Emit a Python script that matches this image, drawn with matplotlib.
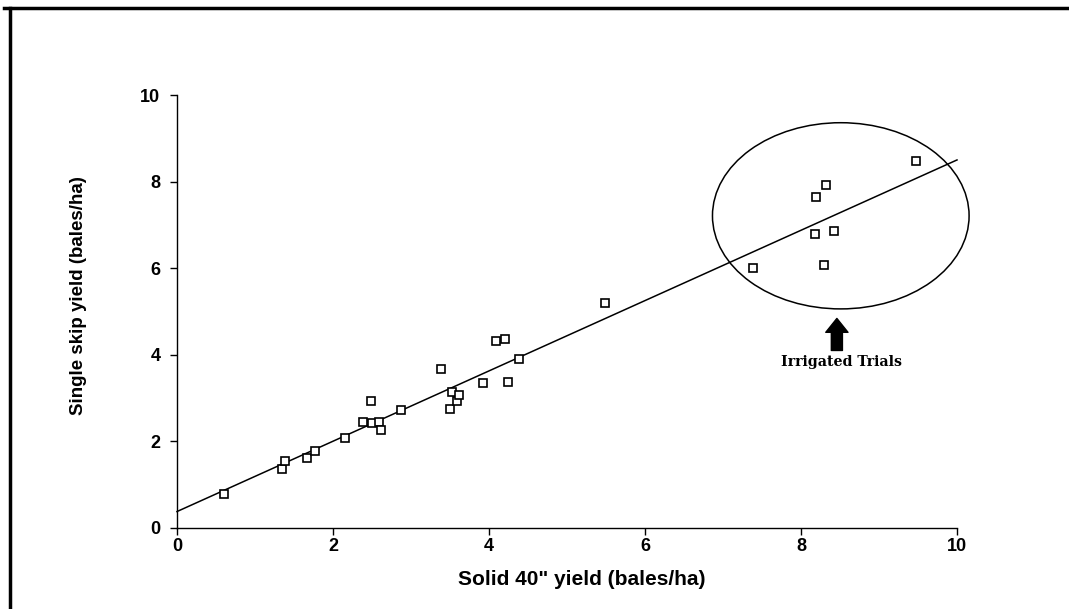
import matplotlib.pyplot as plt
from matplotlib.patches import Ellipse
from matplotlib.lines import Line2D
import numpy as np

# yield of single skip vs solid 40" plantings (bales/ha)
solid_yield = [0.60, 1.35, 1.38, 1.67, 1.77, 2.15, 2.39, 2.49, 2.50, 2.59,
               2.62, 2.87, 3.38, 3.50, 3.53, 3.59, 3.62, 3.92, 4.09, 4.21,
               4.24, 4.39, 5.49,
               7.39, 8.18, 8.19, 8.29, 8.32, 8.42, 9.47]
skip_yield = [0.78, 1.36, 1.55, 1.62, 1.78, 2.09, 2.45, 2.94, 2.43, 2.45,
              2.26, 2.72, 3.67, 2.74, 3.14, 2.93, 3.08, 3.36, 4.33, 4.36,
              3.37, 3.91, 5.20,
              6.01, 6.78, 7.65, 6.07, 7.91, 6.85, 8.48]

# regression line
fit_intercept = 0.38
fit_slope = 0.812
fit_range = [0, 10]

x_ticks = [0, 2, 4, 6, 8, 10]
y_ticks = [0, 2, 4, 6, 8, 10]

fig = plt.figure(figsize=(10.69, 6.09), dpi=100)
ax = fig.add_axes([177 / 1069, 1 - 528 / 609, 780 / 1069, 433 / 609])

fx = np.array(fit_range, dtype=float)
ax.plot(fx, fit_intercept + fit_slope * fx, color='black', lw=1.1, clip_on=False)
ax.plot(solid_yield, skip_yield, linestyle='none', marker='s', markersize=5.5,
        markerfacecolor='white', markeredgecolor='black', markeredgewidth=1.2,
        clip_on=False, zorder=3)

# circle round the irrigated trials
ax.add_patch(Ellipse((8.51, 7.21), 3.29, 4.30, fill=False, ec='black',
                     lw=1.1, clip_on=False))
ax.annotate('', xy=(8.46, 4.84), xytext=(8.46, 4.10),
            arrowprops=dict(arrowstyle='simple,head_width=1.6,head_length=1.0,tail_width=0.8',
                            fc='black', ec='black', shrinkA=0, shrinkB=0,
                            mutation_scale=10))
ax.text(8.52, 3.83, 'Irrigated Trials', ha='center', va='center',
        family='DejaVu Serif', weight='bold', fontsize=10.2)

ax.set_xlim(0, 10)
ax.set_ylim(0, 10)
ax.set_xticks(x_ticks)
ax.set_yticks(y_ticks)
for s in ['top', 'right']:
    ax.spines[s].set_visible(False)
for s in ['left', 'bottom']:
    ax.spines[s].set_linewidth(1.0)
ax.tick_params(axis='both', direction='out', length=5, width=1.0, labelsize=13)
ax.tick_params(axis='y', pad=7)
ax.tick_params(axis='x', pad=2)
for lab in ax.get_xticklabels() + ax.get_yticklabels():
    lab.set_family('Liberation Sans')
    lab.set_fontweight('bold')

ax.set_xlabel('Solid 40" yield (bales/ha)', family='Liberation Sans',
              weight='bold', fontsize=15)
ax.set_ylabel('Single skip yield (bales/ha)', family='Liberation Sans',
              weight='bold', fontsize=13.5)
ax.xaxis.set_label_coords(0.519, -0.097)
ax.yaxis.set_label_coords(-0.115, 0.536)

# frame of the scanned page
fig.add_artist(Line2D([4 / 1069, 1], [1 - 8 / 609, 1 - 8 / 609], color='black', lw=2.5))
fig.add_artist(Line2D([10 / 1069, 10 / 1069], [0, 1 - 8 / 609], color='black', lw=2.5))

fig.savefig('out.png', dpi=100)
